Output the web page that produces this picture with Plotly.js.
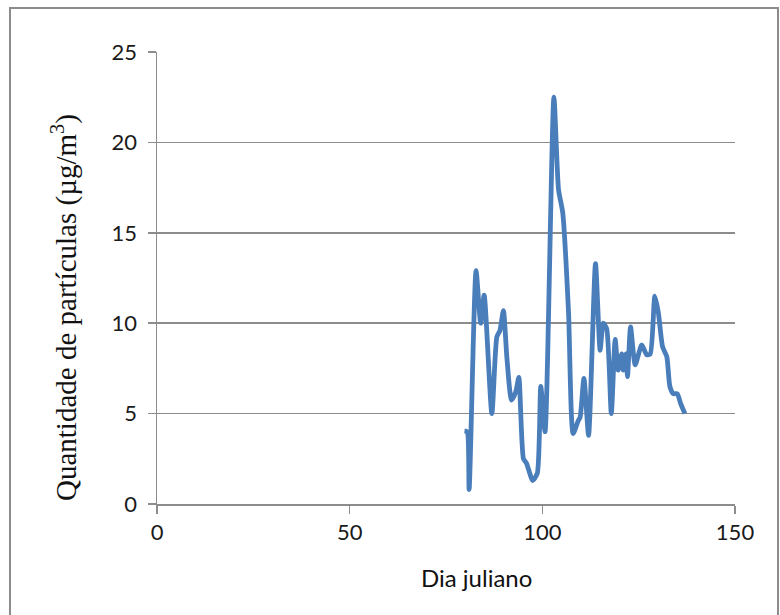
<!DOCTYPE html>
<html>
<head>
<meta charset="utf-8">
<script src="https://cdn.plot.ly/plotly-3.0.1.min.js"></script>
<style>
html,body{margin:0;padding:0;background:#fff;}
#wrap{position:relative;width:780px;height:615px;overflow:hidden;}
#chart{position:absolute;left:0;top:0;width:780px;height:615px;}
#frame{position:absolute;left:9px;top:7px;width:766px;height:640px;border:2px solid #8c8c8c;pointer-events:none;}
</style>
</head>
<body>
<div id="wrap"><div id="chart"></div><div id="frame"></div></div>
<script>
var days = [79.8, 80.5, 81.0, 82.8, 84.0, 84.9, 86.9, 88.2, 89.0, 89.9, 90.8, 92.0, 93.1, 93.9, 95.1, 95.9, 97.5, 98.7, 99.6, 100.7, 103.0, 104.2, 105.3, 106.8, 108.0, 109.3, 109.8, 110.8, 112.0, 113.8, 115.0, 115.8, 116.7, 117.9, 118.9, 119.7, 120.6, 121.0, 121.7, 122.1, 122.9, 124.1, 125.8, 127.1, 128.0, 129.2, 130.1, 131.2, 132.3, 133.1, 134.0, 135.0, 135.9, 137.0];
var particles = [4.05, 4.0, 0.8, 12.9, 10.0, 11.55, 5.0, 9.25, 9.6, 10.7, 8.1, 5.75, 6.2, 7.0, 2.5, 2.25, 1.3, 1.7, 6.5, 4.0, 22.5, 17.4, 16.1, 10.6, 3.9, 4.6, 4.8, 6.95, 3.8, 13.3, 8.5, 10.0, 9.7, 5.0, 9.1, 7.4, 8.3, 7.4, 8.3, 7.05, 9.8, 7.7, 8.8, 8.25, 8.3, 11.5, 10.6, 8.7, 8.15, 6.5, 6.1, 6.1, 5.55, 5.0];
var xTicks = [0, 50, 100, 150];
var yTicks = [0, 5, 10, 15, 20, 25];

var trace = {
  x: days, y: particles, type: 'scatter', mode: 'lines',
  line: {color: '#4a7ebb', width: 4.8, shape: 'spline', smoothing: 0.6},
  hoverinfo: 'none'
};
var tickFont = {family: 'Lato, Liberation Sans, sans-serif', size: 22, color: '#1a1a1a'};
var layout = {
  width: 780, height: 615,
  margin: {l: 157, r: 45, t: 52, b: 111},
  paper_bgcolor: '#fff', plot_bgcolor: '#fff',
  showlegend: false,
  xaxis: {
    range: [0, 150], tickvals: xTicks, ticktext: xTicks.map(String),
    showgrid: false, zeroline: false,
    showline: true, linecolor: '#8c8c8c', linewidth: 1.5,
    ticks: 'outside', ticklen: 8, tickcolor: '#8c8c8c', tickwidth: 1.5,
    tickfont: tickFont
  },
  yaxis: {
    range: [0, 25], tickvals: yTicks, ticktext: yTicks.map(String),
    showgrid: true, gridcolor: '#8c8c8c', gridwidth: 1.5,
    zeroline: false,
    showline: true, linecolor: '#8c8c8c', linewidth: 1.5,
    ticks: 'outside', ticklen: 8, tickcolor: '#8c8c8c', tickwidth: 1.5,
    ticklabelstandoff: 6,
    tickfont: tickFont
  },
  annotations: [
    {text: 'Quantidade de partículas (µg/m<sup>3</sup>)', textangle: -90,
     xref: 'paper', yref: 'paper', x: (64 - 157) / 578, y: (504 - 308) / 452,
     xanchor: 'center', yanchor: 'middle', showarrow: false,
     font: {family: 'Liberation Serif, Times New Roman, serif', size: 29, color: '#111'}},
    {text: 'Dia juliano',
     xref: 'paper', yref: 'paper', x: (476 - 157) / 578, y: -(577 - 504) / 452,
     xanchor: 'center', yanchor: 'middle', showarrow: false,
     font: {family: 'Lato, Liberation Sans, sans-serif', size: 24, color: '#111'}}
  ]
};
Plotly.newPlot('chart', [trace], layout, {staticPlot: true, displayModeBar: false});
</script>
</body>
</html>
